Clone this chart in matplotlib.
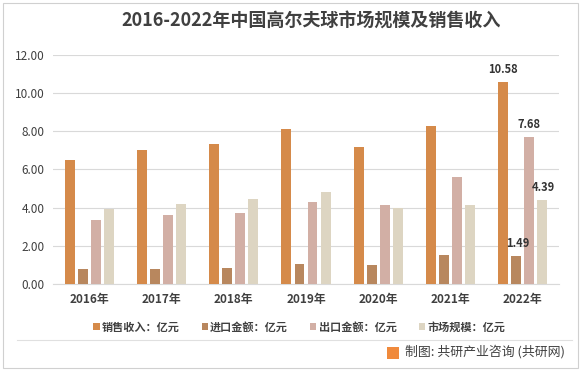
import matplotlib
matplotlib.use("Agg")
import matplotlib.pyplot as plt
import numpy as np
from matplotlib.patches import Rectangle

plt.rcParams['font.family'] = ['Noto Sans CJK SC', 'DejaVu Sans']

years = ['2016年', '2017年', '2018年', '2019年', '2020年', '2021年', '2022年']
sales = [6.49, 7.01, 7.32, 8.09, 7.15, 8.26, 10.58]
imports = [0.82, 0.82, 0.85, 1.05, 1.02, 1.51, 1.49]
exports = [3.38, 3.62, 3.72, 4.31, 4.14, 5.59, 7.68]
market = [3.92, 4.21, 4.45, 4.83, 3.98, 4.16, 4.39]
series_names = ['销售收入：亿元', '进口金额：亿元', '出口金额：亿元', '市场规模：亿元']
colors = ['#D58A4A', '#B8875E', '#D2AFA5', '#DDD5C2']
yticks = [0, 2, 4, 6, 8, 10, 12]

fig = plt.figure(figsize=(5.81, 3.71), dpi=100)
fig.patch.set_facecolor('white')
fig.add_artist(Rectangle((0.005, 0.008), 0.99, 0.984, transform=fig.transFigure,
                         fill=False, edgecolor='#D0D0D0', linewidth=0.8))

ax = fig.add_axes([53/581, 1-284.3/371, (559-53)/581, (284.3-54.5)/371])
x = np.arange(len(years))
w = 0.138
pitch = 0.18
data = [sales, imports, exports, market]
bars = []
for i, (vals, c, n) in enumerate(zip(data, colors, series_names)):
    b = ax.bar(x + (i - 1.5) * pitch, vals, width=w, color=c, label=n, zorder=3)
    bars.append(b)

ax.set_xlim(-0.5, len(years) - 0.5)
ax.set_ylim(0, 12)
ax.set_yticks(yticks)
ax.set_yticklabels([f'{v:.2f}' for v in yticks], fontsize=8.5, color='#404040')
ax.set_xticks(x)
ax.set_xticklabels(years, fontsize=8.5, color='#404040', fontweight='bold')
ax.tick_params(axis='both', length=0, pad=6)
ax.grid(axis='y', color='#D9D9D9', linewidth=0.8, zorder=0)
for s in ['top', 'right', 'left']:
    ax.spines[s].set_visible(False)
ax.spines['bottom'].set_color('#D9D9D9')

last = len(years) - 1
offsets = [(0, 0.3), (0.02, 0.3), (0, 0.3), (0.02, 0.35)]
for i, vals in enumerate(data):
    dx, dy = offsets[i]
    ax.text(x[last] + (i - 1.5) * pitch + dx, vals[last] + dy, f'{vals[last]:.2f}',
            ha='center', va='bottom', fontsize=8, fontweight='bold', color='#333333')

fig.text(0.536, 0.943, '2016-2022年中国高尔夫球市场规模及销售收入', ha='center', va='center',
         fontsize=13, fontweight='bold', color='#404040')

leg = fig.legend(handles=bars, labels=series_names, loc='center', bbox_to_anchor=(0.515, 1-327/371),
                 ncol=4, frameon=False, fontsize=8, handlelength=0.55, handleheight=0.55,
                 handletextpad=0.2, columnspacing=2.0)
for t in leg.get_texts():
    t.set_color('#404040')
    t.set_fontweight('bold')

fig.add_artist(plt.Line2D([0.03, 0.985], [1-340/371, 1-340/371], transform=fig.transFigure,
                          color='#E0E0E0', linewidth=0.8))
fig.add_artist(Rectangle((387/581, 1-359/371), 12/581, 12/371, transform=fig.transFigure,
                         facecolor='#F08A3C', edgecolor='none'))
fig.text(405/581, 1-352/371, '制图: 共研产业咨询 (共研网)', ha='left', va='center',
         fontsize=9.3, color='#404040')

fig.savefig('out.png', dpi=100)
